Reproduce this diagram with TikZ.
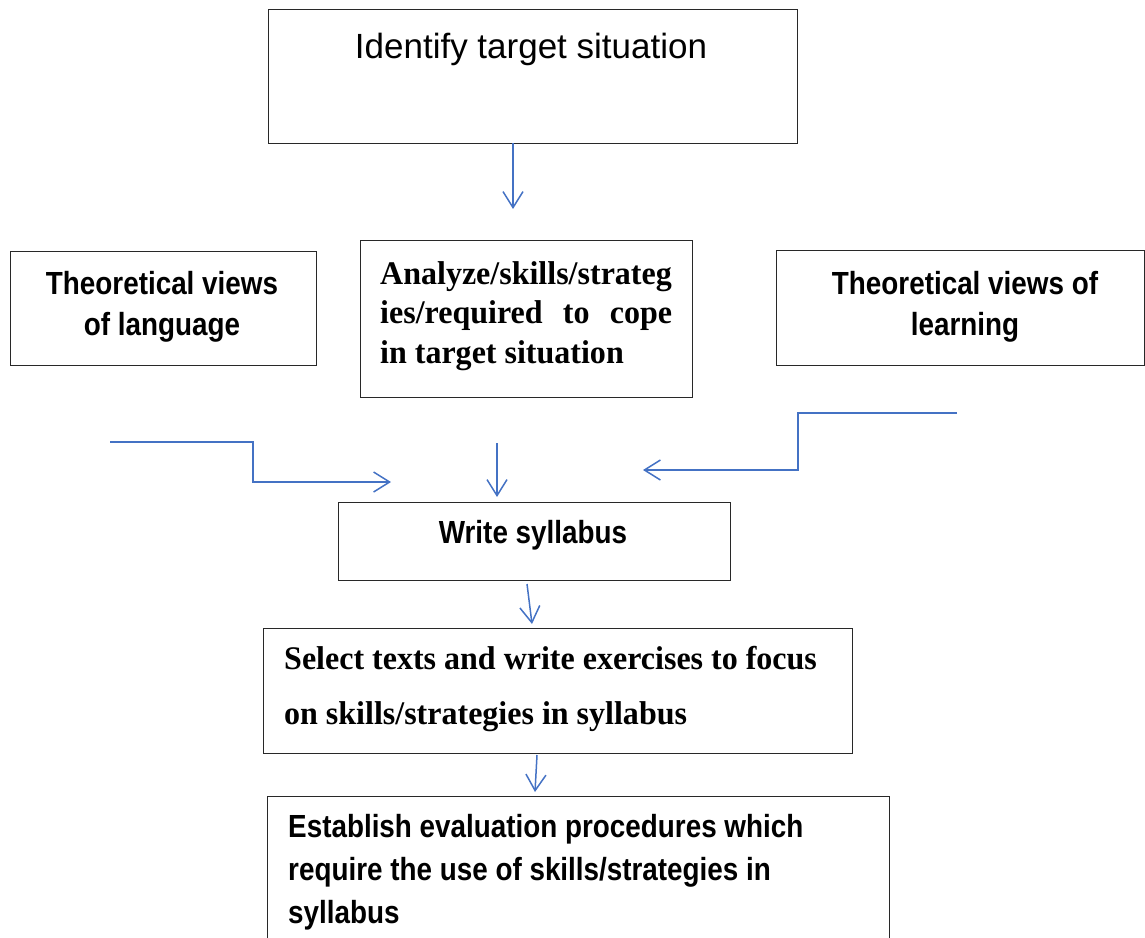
\documentclass[tikz,border=0pt]{standalone}
\usepackage{fontspec}
\setmainfont{Liberation Serif}
\newfontfamily\sansR{Liberation Sans}
\newfontfamily\sansN[FakeStretch=0.87]{Liberation Sans}
\newfontfamily\serifN[FakeStretch=0.97]{Liberation Serif}
\usetikzlibrary{arrows.meta}
\definecolor{arrowblue}{RGB}{68,114,196}
\definecolor{boxline}{RGB}{40,40,40}
\tikzset{
  box/.style={draw=boxline, line width=1.3pt, rectangle, inner sep=0pt, anchor=north west},
  flow/.style={draw=arrowblue, line width=1.5pt, -{Straight Barb[length=16pt,width=20pt]}},
  sansbold/.style={font={\sansN\bfseries\fontsize{32}{41}\selectfont}, inner sep=0pt},
  serifbold/.style={font={\serifN\bfseries\fontsize{33}{40}\selectfont}, inner sep=0pt},
  sansreg/.style={font={\sansR\fontsize{35}{42}\selectfont}, inner sep=0pt}
}
\begin{document}
\begin{tikzpicture}[x=1pt,y=-1pt]
\useasboundingbox (0,0) rectangle (1145,937);
% boxes
\node[box, minimum width=529pt, minimum height=134pt] (top) at (268,9) {};
\node[box, minimum width=306pt, minimum height=114pt] (lang) at (10,251) {};
\node[box, minimum width=332pt, minimum height=157pt] (anal) at (360,240) {};
\node[box, minimum width=368pt, minimum height=115pt] (learn) at (776,250) {};
\node[box, minimum width=392pt, minimum height=78pt] (write) at (338,502) {};
\node[box, minimum width=589pt, minimum height=125pt] (select) at (263,628) {};
\node[box, minimum width=622pt, minimum height=160pt] (estab) at (267,796) {};
% texts
\node[sansreg, anchor=base] (t1) at (531,58) {Identify target situation};
\node[sansbold, anchor=base] (l1) at (162,294) {Theoretical views};
\node[sansbold, anchor=base] (l2) at (162,335) {of language};
\node[serifbold, anchor=base west] (m1) at (380,284) {\makebox[292pt][s]{Analyze/skills/strateg}};
\node[serifbold, anchor=base west] (m2) at (380,323) {\makebox[292pt][s]{ies/required to cope}};
\node[serifbold, anchor=base west] (m3) at (380,363) {in target situation};
\node[sansbold, anchor=base] (r1) at (965,294) {Theoretical views of};
\node[sansbold, anchor=base] (r2) at (965,335) {learning};
\node[sansbold, anchor=base] (w1) at (533,543) {Write syllabus};
\node[serifbold, anchor=base west] (s1) at (284,669) {Select texts and write exercises to focus};
\node[serifbold, anchor=base west] (s2) at (284,724) {on skills/strategies in syllabus};
\node[sansbold, anchor=base west] (e1) at (288,837) {Establish evaluation procedures which};
\node[sansbold, anchor=base west] (e2) at (288,880) {require the use of skills/strategies in};
\node[sansbold, anchor=base west] (e3) at (288,923) {syllabus};
% arrow end points
\coordinate (a1s) at (513,143);
\coordinate (a1e) at (513,209);
\coordinate (a2s) at (110,442);
\coordinate (a2e) at (391,482);
\coordinate (a3s) at (497,443);
\coordinate (a3e) at (497,497);
\coordinate (a4s) at (957,413);
\coordinate (a4e) at (643,470);
\coordinate (a5s) at (527,584);
\coordinate (a5e) at (532,624);
\coordinate (a6s) at (537,755);
\coordinate (a6e) at (535,792);
% arrows
\draw[flow] (a1s) -- (a1e);
\draw[flow] (a2s) -- (253,442) -- (253,482) -- (a2e);
\draw[flow] (a3s) -- (a3e);
\draw[flow] (a4s) -- (798,413) -- (798,470) -- (a4e);
\draw[flow] (a5s) -- (a5e);
\draw[flow] (a6s) -- (a6e);
\end{tikzpicture}
\end{document}
